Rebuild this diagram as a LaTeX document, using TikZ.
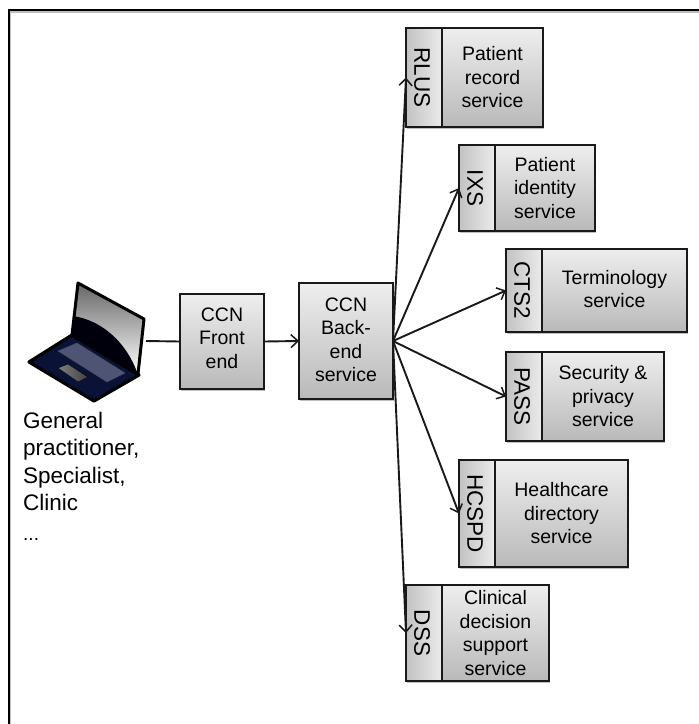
\documentclass[tikz,border=0pt]{standalone}
\usepackage{fontspec}
\setmainfont{Liberation Sans}
\usetikzlibrary{arrows.meta,shadows}

\definecolor{boxtop}{HTML}{EEEEEE}
\definecolor{boxbottom}{HTML}{B9B9B9}
\definecolor{tabdark}{HTML}{C2C2C2}
\definecolor{tablight}{HTML}{EBEBEB}
\definecolor{laptopblue}{HTML}{0B1238}
\definecolor{laptopkeys}{HTML}{4E5474}

\newcommand{\tablabel}[1]{\rotatebox{-90}{#1}\rule{4pt}{0pt}}

\tikzset{
    basebox/.style={draw=black!90, line width=1.2pt, inner sep=0pt, outer sep=0pt, align=center,
        drop shadow={shadow xshift=1.2pt, shadow yshift=-2pt, fill=black!45, opacity=.55}},
    svcbox/.style={basebox, top color=boxtop, bottom color=boxbottom, font=\fontsize{19.5}{23.5}\selectfont},
    tabbox/.style={basebox, left color=tabdark, right color=tablight, minimum width=36pt, font=\fontsize{22.5}{24}\selectfont},
    plainconn/.style={line width=1.9pt, black!90},
    conn/.style={plainconn, -{Straight Barb[length=7pt,width=13pt,line width=1.5pt]}}
}

\begin{document}
\begin{tikzpicture}[x=1pt,y=-1pt]
    \useasboundingbox (0,0) rectangle (699,724);

    % The frame
    \draw[line width=1.5pt, black!25] (10.5,724) -- (10.5,12) -- (699,12);
    \draw[line width=1.5pt] (9,724) -- (9,10) -- (699,10);

    % Laptop
    \fill[laptopblue, draw=black, line width=3.2pt, line join=round] (29,362) -- (72,335) -- (139,375) -- (94,401) -- cycle;
    \shade[top color=black!60, bottom color=white, draw=black, line width=3pt, line join=round] (78,283) -- (144,319) -- (138,374) -- (72,335) -- cycle;
    \fill[black!95!blue] (73,316) .. controls (100,320) and (125,340) .. (137,372) -- (72,335) -- cycle;
    \fill[laptopkeys, draw=black!70, line width=.4pt] (58,351) -- (77,343) -- (125,373) -- (107,382) -- cycle;
    \shade[left color=black!50, right color=black!75, draw=black, line width=.4pt] (58,368) -- (68,364) -- (88,377) -- (78,382) -- cycle;
    \coordinate (laptop) at (146,341);

    \node[anchor=north west, inner sep=0pt, align=left, font=\fontsize{22.5}{27.5}\selectfont] (users) at (23,411.5)
        {General\\practitioner,\\Specialist,\\Clinic\\[2pt]{\fontsize{19}{20}\selectfont ...}};

    % CCN boxes
    \node[svcbox, minimum width=84pt, minimum height=95pt, text depth=7pt] (front) at (222,341.5) {CCN\\Front\\end};
    \node[svcbox, minimum width=94pt, minimum height=116pt, text depth=3pt] (back) at (346,341) {CCN\\Back-\\end\\service};

    % Services (right part)
    \node[svcbox, minimum width=101pt, minimum height=99pt] (rlussvc) at (492.5,77.5) {Patient\\record\\service};
    \node[tabbox, minimum height=99pt] (rlus) at (424,77.5) {\tablabel{RLUS}};

    \node[svcbox, minimum width=100pt, minimum height=86pt] (ixssvc) at (545,188) {Patient\\identity\\service};
    \node[tabbox, minimum height=86pt] (ixs) at (477,188) {\tablabel{IXS}};

    \node[svcbox, minimum width=145pt, minimum height=83pt, text depth=3pt] (ctssvc) at (614.5,290.5) {Terminology\\service};
    \node[tabbox, minimum height=83pt] (cts) at (524,290.5) {\tablabel{CTS2}};

    \node[svcbox, minimum width=122pt, minimum height=89pt] (passsvc) at (603,396.5) {Security \&\\privacy\\service};
    \node[tabbox, minimum height=89pt] (pass) at (524,396.5) {\tablabel{PASS}};

    \node[svcbox, minimum width=133pt, minimum height=107pt] (hcspdsvc) at (561.5,513.5) {Healthcare\\directory\\service};
    \node[tabbox, minimum height=107pt] (hcspd) at (477,513.5) {\tablabel{HCSPD}};

    \node[svcbox, minimum width=107pt, minimum height=96pt] (dsssvc) at (495.5,633) {Clinical\\decision\\support\\service};
    \node[tabbox, minimum height=96pt] (dss) at (424,633) {\tablabel{DSS}};

    % Arrows
    \draw[plainconn] (laptop) -- (front.west);
    \draw[conn] (front.east) -- (back.west);
    \foreach \target in {rlus,ixs,cts,pass,hcspd,dss} \draw[conn] (back.east) -- (\target.west);
\end{tikzpicture}
\end{document}
